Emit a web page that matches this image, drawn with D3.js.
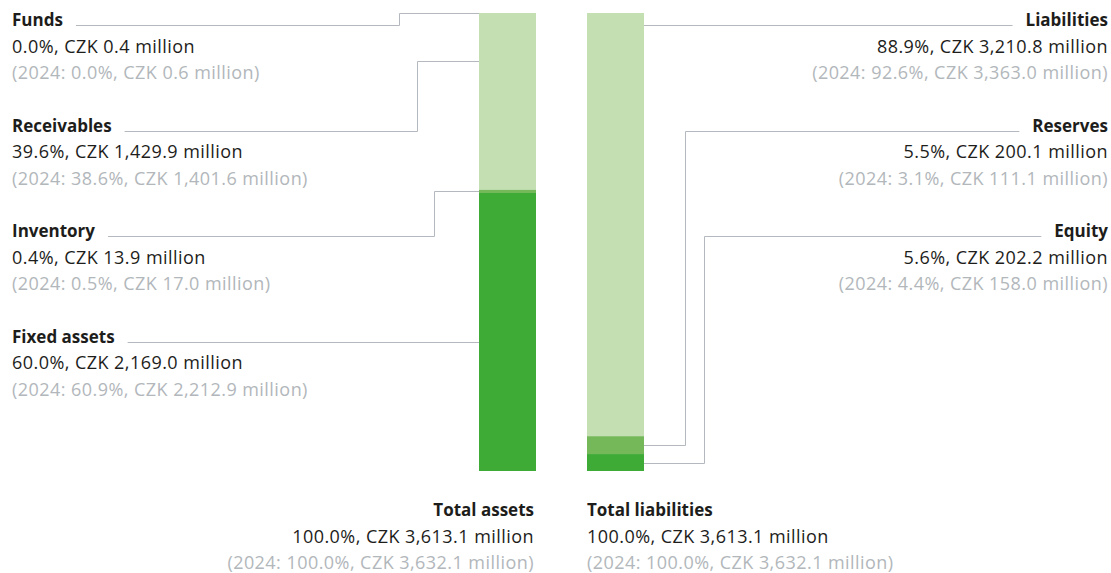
<!DOCTYPE html>
<html>
<head>
<meta charset="utf-8">
<script src="https://cdn.jsdelivr.net/npm/d3@7"></script>
<style>
  body { margin: 0; background: #fff; }
  svg text { font-family: "Open Sans", sans-serif; }
</style>
</head>
<body>
<div id="chart"></div>
<script>
// balance sheet structure 2025 vs 2024
var assetNames = ["Funds", "Receivables", "Inventory", "Fixed assets"];
var assetPct = [0.0, 39.6, 0.4, 60.0];
var assetCzk = ["0.4", "1,429.9", "13.9", "2,169.0"];
var assetPct2024 = [0.0, 38.6, 0.5, 60.9];
var assetCzk2024 = ["0.6", "1,401.6", "17.0", "2,212.9"];
// segment shares as the bar is drawn in the source
var assetBar = [0.0, 38.6, 0.7, 60.7];

var liabNames = ["Liabilities", "Reserves", "Equity"];
var liabPct = [88.9, 5.5, 5.6];
var liabCzk = ["3,210.8", "200.1", "202.2"];
var liabPct2024 = [92.6, 3.1, 4.4];
var liabCzk2024 = ["3,363.0", "111.1", "158.0"];
var liabBar = [92.4, 3.9, 3.7];

var totals = [
  { name: "Total assets", pct: 100.0, czk: "3,613.1", pct2024: 100.0, czk2024: "3,632.1" },
  { name: "Total liabilities", pct: 100.0, czk: "3,613.1", pct2024: 100.0, czk2024: "3,632.1" }
];

var width = 1111, height = 573;
var light = "#c4dfb1", mid = "#74b85a", dark = "#3dab36";
var txtColor = "#1d1d1b", greyTxt = "#b2b7bb", lineColor = "#b3b9bf";
var titleSize = 17, fontSize = 18, spacing = 0.45;

var svg = d3.select("#chart").append("svg")
  .attr("width", width).attr("height", height);

var x = d3.scaleBand().domain(["assets", "liabilities"])
  .range([479, 644]).paddingInner(51 / 108).paddingOuter(0);
var y = d3.scaleLinear().domain([0, 100]).range([13, 471]);

function stackUp(vals) {
  var acc = 0;
  return vals.map(function (v) {
    var s = { y0: acc, y1: acc + v };
    acc += v;
    return s;
  });
}

var assetSeg = stackUp(assetBar);
var liabSeg = stackUp(liabBar);
var assetColors = [light, light, mid, dark];
var liabColors = [light, mid, dark];

function fmt(v) { return v.toFixed(1) + "%"; }

// bars
svg.append("g").selectAll("rect").data(assetSeg).join("rect")
  .attr("x", x("assets")).attr("width", x.bandwidth())
  .attr("y", function (d) { return y(d.y0); })
  .attr("height", function (d) { return y(d.y1) - y(d.y0); })
  .attr("fill", function (d, i) { return assetColors[i]; });

svg.append("g").selectAll("rect").data(liabSeg).join("rect")
  .attr("x", x("liabilities")).attr("width", x.bandwidth())
  .attr("y", function (d) { return y(d.y0); })
  .attr("height", function (d) { return y(d.y1) - y(d.y0); })
  .attr("fill", function (d, i) { return liabColors[i]; });

// label block: title, value, prior year
function labelBlock(g, xPos, base, anchor, name, pct, czk, pct2024, czk2024) {
  var t = g.append("text").attr("x", xPos).attr("y", base)
    .attr("text-anchor", anchor).attr("font-size", titleSize)
    .attr("font-weight", "bold").attr("fill", txtColor).text(name);
  g.append("text").attr("x", xPos).attr("y", base + 26.5)
    .attr("text-anchor", anchor).attr("font-size", fontSize)
    .attr("letter-spacing", spacing)
    .attr("fill", txtColor).text(fmt(pct) + ", CZK " + czk + " million");
  g.append("text").attr("x", xPos).attr("y", base + 53)
    .attr("text-anchor", anchor).attr("font-size", fontSize)
    .attr("letter-spacing", spacing)
    .attr("fill", greyTxt).text("(2024: " + fmt(pct2024) + ", CZK " + czk2024 + " million)");
  return t.node().getComputedTextLength();
}

var labels = svg.append("g");
var leaders = svg.append("g").attr("fill", "none")
  .attr("stroke", lineColor).attr("stroke-width", 1);

// leader routing (elbow x, where on the segment the line lands)
var assetElbow = [399, 417, 434, null];
var assetLand = [0, 0.27, 0.5, null];
var liabElbow = [null, 685, 704];
var liabLand = [null, 0.5, 0.5];

var rowStep = 105.5;
assetNames.forEach(function (n, i) {
  var base = 26 + i * rowStep;
  var w = labelBlock(labels, 12, base, "start", n, assetPct[i], assetCzk[i], assetPct2024[i], assetCzk2024[i]);
  var ly = Math.round(base - 1) + 0.5;
  var x0 = 12 + w + 13;
  var bx = x("assets");
  var p = d3.path();
  p.moveTo(x0, ly);
  if (assetElbow[i] == null) {
    p.lineTo(bx, ly);
  } else {
    var s = assetSeg[i];
    var ty = Math.round(y(s.y0 + (s.y1 - s.y0) * assetLand[i])) + 0.5;
    p.lineTo(assetElbow[i] + 0.5, ly);
    p.lineTo(assetElbow[i] + 0.5, ty);
    p.lineTo(bx, ty);
  }
  leaders.append("path").attr("d", p.toString());
});

liabNames.forEach(function (n, i) {
  var base = 26 + i * rowStep;
  var w = labelBlock(labels, 1108, base, "end", n, liabPct[i], liabCzk[i], liabPct2024[i], liabCzk2024[i]);
  var ly = Math.round(base - 1) + 0.5;
  var x0 = 1108 - w - 13;
  var bx = x("liabilities") + x.bandwidth();
  var p = d3.path();
  p.moveTo(x0, ly);
  if (liabElbow[i] == null) {
    p.lineTo(bx, ly);
  } else {
    var s = liabSeg[i];
    var ty = Math.round(y(s.y0 + (s.y1 - s.y0) * liabLand[i])) + 0.5;
    p.lineTo(liabElbow[i] + 0.5, ly);
    p.lineTo(liabElbow[i] + 0.5, ty);
    p.lineTo(bx, ty);
  }
  leaders.append("path").attr("d", p.toString());
});

// totals under the bars
labelBlock(labels, x("assets") + x.bandwidth() - 2, 516, "end", totals[0].name,
  totals[0].pct, totals[0].czk, totals[0].pct2024, totals[0].czk2024);
labelBlock(labels, x("liabilities"), 516, "start", totals[1].name,
  totals[1].pct, totals[1].czk, totals[1].pct2024, totals[1].czk2024);
</script>
</body>
</html>
